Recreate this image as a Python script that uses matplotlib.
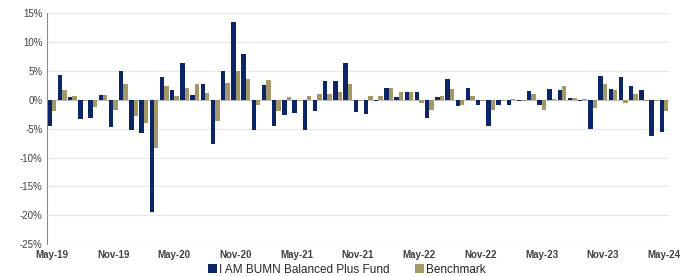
import numpy as np
import pandas as pd
import matplotlib
matplotlib.use('Agg')
import matplotlib.pyplot as plt
from matplotlib.ticker import FuncFormatter

plt.rcParams['font.family'] = ['Liberation Sans', 'DejaVu Sans']

months = pd.date_range('2019-05-01', periods=61, freq='MS').strftime('%b-%y').tolist()

# monthly returns, %
fund = [-4.5, 4.3, 0.4, -3.4, -3.2, 0.9, -4.8, 4.9, -5.3, -5.7,
        -19.5, 4.0, 1.6, 6.4, 0.9, 2.7, -7.6, 5.0, 13.5, 7.9,
        -5.3, 2.5, -4.6, -2.6, -2.3, -5.3, -2.0, 3.3, 3.2, 6.4,
        -2.2, -2.4, -0.3, 2.1, 0.5, 1.4, 1.4, -3.2, 0.4, 3.6,
        -1.1, 2.0, -0.9, -4.6, -0.9, -1.0, -0.3, 1.5, -1.0, 1.8,
        1.6, 0.3, -0.2, -5.1, 4.1, 1.8, 4.0, 2.3, 1.6, -6.3,
        -5.5]
bench = [-1.9, 1.6, 0.6, -0.2, -1.3, 0.8, -1.7, 2.8, -2.9, -4.1,
         -8.4, 2.3, 0.7, 2.0, 2.8, 1.1, -3.6, 2.9, 5.0, 3.6,
         -1.0, 3.4, -2.0, 0.4, -0.2, 0.6, 1.0, 1.0, 1.4, 2.7,
         -0.3, 0.6, 0.6, 2.1, 1.4, 1.3, -0.6, -1.7, 0.6, 1.8,
         -1.0, 0.6, -0.2, -1.7, -0.3, 0.2, -0.3, 1.0, -1.7, 0.2,
         2.3, 0.3, 0.1, -1.4, 2.7, 1.6, -0.6, 1.0, -0.3, -0.3,
         -1.9]

navy = '#0c2566'
khaki = '#a39868'

fig = plt.figure(figsize=(6.89, 2.76), dpi=100)
ax = fig.add_axes([0.068, 0.115, 0.903, 0.838])

x = np.arange(len(months))
w = 0.43
ax.bar(x - w / 2, fund, w, color=navy, label='I AM BUMN Balanced Plus Fund', zorder=3)
ax.bar(x + w / 2, bench, w, color=khaki, label='Benchmark', zorder=3)

ax.set_xlim(-0.5, len(months) - 0.5)
ax.set_ylim(-25, 15)
ax.set_yticks(np.arange(-25, 16, 5))
ax.yaxis.set_major_formatter(FuncFormatter(lambda v, p: f'{v:.0f}%'))
ax.grid(axis='y', color='#e6e6e6', linewidth=0.8, zorder=0)
ax.axhline(0, color='#bfbfbf', linewidth=0.8, zorder=2)

ax.set_xticks(x[::6])
ax.set_xticklabels(months[::6])
ax.tick_params(axis='x', length=0, pad=4, labelsize=7, labelcolor='#404040')
ax.tick_params(axis='y', length=0, pad=3, labelsize=7, labelcolor='#404040')
for t in ax.get_xticklabels():
    t.set_fontweight('bold')

for s in ['top', 'right', 'bottom']:
    ax.spines[s].set_visible(False)
ax.spines['left'].set_color('#8c8c8c')
ax.spines['left'].set_linewidth(0.8)

ax.legend(loc='upper center', bbox_to_anchor=(0.482, -0.085), ncol=2, frameon=False,
          fontsize=8.5, handlelength=0.75, handleheight=0.75, handletextpad=0.15,
          columnspacing=2.2, borderpad=0, borderaxespad=0, labelcolor='#262626')

fig.savefig('out.png', dpi=100)
